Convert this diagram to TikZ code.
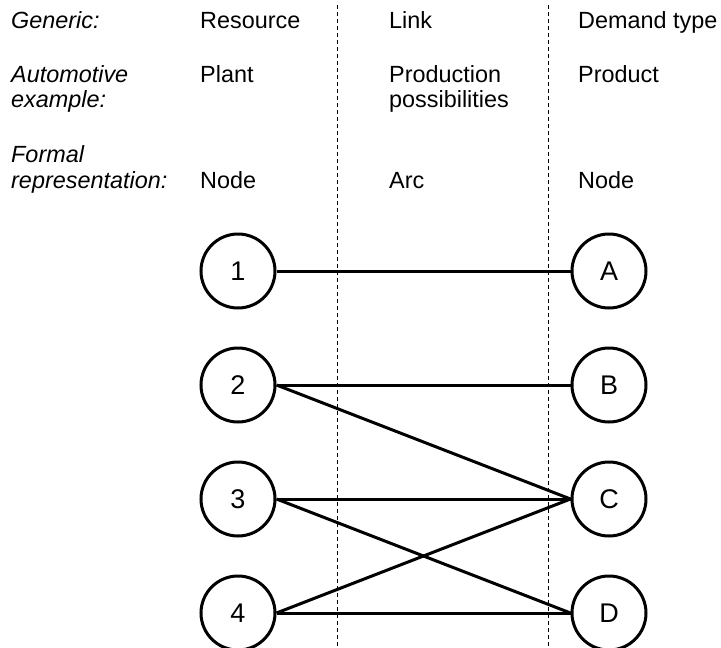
\documentclass[tikz,border=0pt]{standalone}
\usepackage{fontspec}
\setmainfont{Liberation Sans}
\begin{document}
\begin{tikzpicture}[x=1pt,y=-1pt,
  lbl/.style={anchor=base west, inner sep=0pt, font=\fontsize{23.4}{26}\selectfont},
  ital/.style={anchor=base west, inner sep=0pt, font=\fontsize{23.4}{26}\selectfont\itshape},
  vert/.style={circle, draw, line width=3pt, minimum size=74pt, inner sep=0pt, font=\fontsize{27}{27}\selectfont},
  edgeline/.style={line width=3pt},
  sepline/.style={line width=0.8pt, dash pattern=on 4pt off 3pt}]
\useasboundingbox (0,0) rectangle (721,648);
% separators
\coordinate (s1t) at (337,5);
\coordinate (s1b) at (337,648);
\coordinate (s2t) at (548,5);
\coordinate (s2b) at (548,648);
\draw[sepline] (s1t) -- (s1b);
\draw[sepline] (s2t) -- (s2b);
% header texts
\node[ital] (g1) at (11,28) {Generic:};
\node[lbl] (g2) at (200,28) {Resource};
\node[lbl] (g3) at (389,28) {Link};
\node[lbl] (g4) at (578,28) {Demand type};
\node[ital] (a1) at (11,82) {Automotive};
\node[ital] (a1b) at (11,107) {example:};
\node[lbl] (a2) at (200,82) {Plant};
\node[lbl] (a3) at (389,82) {Production};
\node[lbl] (a3b) at (389,107) {possibilities};
\node[lbl] (a4) at (578,82) {Product};
\node[ital] (f1) at (11,162) {Formal};
\node[ital] (f1b) at (11,188) {representation:};
\node[lbl] (f2) at (200,188) {Node};
\node[lbl] (f3) at (389,188) {Arc};
\node[lbl] (f4) at (578,188) {Node};
% nodes
\node[vert] (n1) at (238,271) {1};
\node[vert] (n2) at (238,385) {2};
\node[vert] (n3) at (238,499) {3};
\node[vert] (n4) at (238,613) {4};
\node[vert] (nA) at (609,271) {A};
\node[vert] (nB) at (609,385) {B};
\node[vert] (nC) at (609,499) {C};
\node[vert] (nD) at (609,613) {D};
% arcs
\draw[edgeline] (n1.east) -- (nA.west);
\draw[edgeline] (n2.east) -- (nB.west);
\draw[edgeline] (n2.east) -- (nC.west);
\draw[edgeline] (n3.east) -- (nC.west);
\draw[edgeline] (n3.east) -- (nD.west);
\draw[edgeline] (n4.east) -- (nC.west);
\draw[edgeline] (n4.east) -- (nD.west);
\end{tikzpicture}
\end{document}
